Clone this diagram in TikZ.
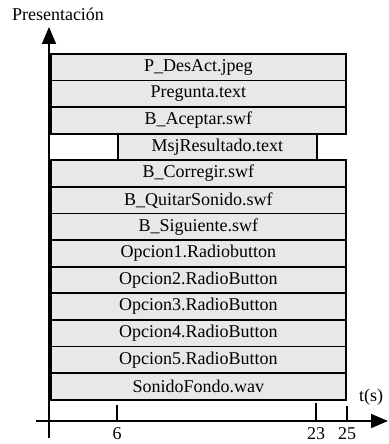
\documentclass[tikz,border=0pt]{standalone}
\usepackage{fontspec}
\setmainfont{Liberation Serif}
\usetikzlibrary{arrows.meta}

\tikzset{
  medio/.style={draw=black, line width=1.8pt, fill=black!9, anchor=north west,
    minimum height=26.6pt, inner sep=0pt, font=\fontsize{18}{20}\selectfont},
  eje/.style={line width=1.7pt, -{Triangle[length=17pt,width=14pt]}},
  marca/.style={line width=1.5pt},
  etiq/.style={font=\fontsize{18}{20}\selectfont, inner sep=0pt}
}

\begin{document}
\begin{tikzpicture}[x=1pt,y=1pt]
\useasboundingbox (0,0) rectangle (388,444);
% media objects:
\node[medio, minimum width=295pt] (desact) at (50,391) {P\_DesAct.jpeg};
\node[medio, minimum width=295pt] (pregunta) at (50,364.4) {Pregunta.text};
\node[medio, minimum width=295pt] (aceptar) at (50,337.8) {B\_Aceptar.swf};
\node[medio, minimum width=199pt] (msj) at (117,311.2) {MsjResultado.text};
\node[medio, minimum width=295pt] (corregir) at (50,284.6) {B\_Corregir.swf};
\node[medio, minimum width=295pt] (quitar) at (50,258) {B\_QuitarSonido.swf};
\node[medio, minimum width=295pt] (siguiente) at (50,231.4) {B\_Siguiente.swf};
\node[medio, minimum width=295pt] (op1) at (50,204.8) {Opcion1.Radiobutton};
\node[medio, minimum width=295pt] (op2) at (50,178.2) {Opcion2.RadioButton};
\node[medio, minimum width=295pt] (op3) at (50,151.6) {Opcion3.RadioButton};
\node[medio, minimum width=295pt] (op4) at (50,125) {Opcion4.RadioButton};
\node[medio, minimum width=295pt] (op5) at (50,98.4) {Opcion5.RadioButton};
\node[medio, minimum width=295pt] (fondo) at (50,71.8) {SonidoFondo.wav};
% axes:
\coordinate (v0) at (49,6);
\coordinate (v1) at (49,417);
\coordinate (h0) at (36,23);
\coordinate (h1) at (388,23);
\draw[eje] (v0) -- (v1);
\draw[eje] (h0) -- (h1);
\node[etiq] (pres) at (58,430) {Presentación};
\node[etiq] (ts) at (371,47) {t(s)};
% time marks:
\coordinate (t6) at (117,23);
\coordinate (t23) at (316,23);
\coordinate (t25) at (347,23);
\draw[marca] (t6) -- ++(0,16);
\draw[marca] (t23) -- ++(0,18);
\draw[marca] (t25) -- ++(0,15);
\node[etiq] (l6) at (117,10) {6};
\node[etiq] (l23) at (316,10) {23};
\node[etiq] (l25) at (347,10) {25};
\end{tikzpicture}
\end{document}
